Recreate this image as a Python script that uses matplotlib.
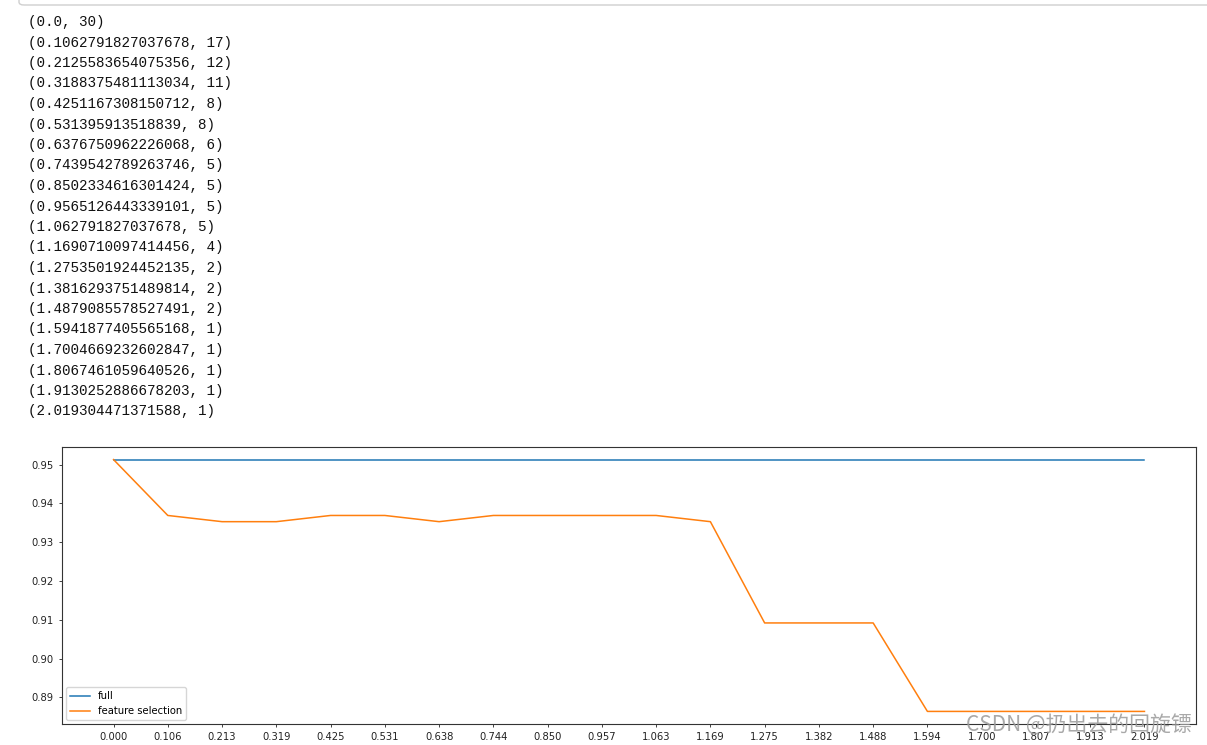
import matplotlib.pyplot as plt
from matplotlib.patches import FancyBboxPatch

# thresholds and number of selected features (printed output)
thresholds = [0.0, 0.1062791827037678, 0.2125583654075356, 0.3188375481113034,
              0.4251167308150712, 0.531395913518839, 0.6376750962226068,
              0.7439542789263746, 0.8502334616301424, 0.9565126443339101,
              1.062791827037678, 1.1690710097414456, 1.2753501924452135,
              1.3816293751489814, 1.4879085578527491, 1.5941877405565168,
              1.7004669232602847, 1.8067461059640526, 1.9130252886678203,
              2.019304471371588]
n_features = [30, 17, 12, 11, 8, 8, 6, 5, 5, 5, 5, 4, 2, 2, 2, 1, 1, 1, 1, 1]

# scores
full_score = [0.9513] * 20
fs_score = [0.9513, 0.9369, 0.9353, 0.9353, 0.9369, 0.9369, 0.9353, 0.9369,
            0.9369, 0.9369, 0.9369, 0.9353, 0.9092, 0.9092, 0.9092, 0.8864,
            0.8864, 0.8864, 0.8864, 0.8864]

W, H = 1207, 745
fig = plt.figure(figsize=(W / 100, H / 100), dpi=100)

# notebook cell border at the very top
fig.add_artist(FancyBboxPatch((19 / W, 1 - 5 / H), 1.2, 0.2,
                              boxstyle="round,pad=0,rounding_size=0.004",
                              transform=fig.transFigure, fc='none',
                              ec='#cfcfcf', lw=1))

# printed text output
for i, (t, n) in enumerate(zip(thresholds, n_features)):
    y = 1 - (22 + i * 20.5) / H
    fig.text(28 / W, y, str((t, n)), family='Liberation Mono', fontsize=10.3,
             va='center', ha='left', color='#111111')

ax = fig.add_axes([62 / W, 21 / H, 1134 / W, 277 / H])
ax.plot(thresholds, full_score, color='#1f77b4', lw=1.1, label='full')
ax.plot(thresholds, fs_score, color='#ff7f0e', lw=1.1, label='feature selection')
ax.set_xticks(thresholds)
ax.set_xticklabels([f'{t:.3f}' for t in thresholds])
ax.tick_params(labelsize=7.2, length=2.5, width=0.6, colors='#222222')
for s in ax.spines.values():
    s.set_linewidth(0.8)
    s.set_color('#333333')
ax.legend(loc='lower left', fontsize=7.2, handlelength=2.0, borderaxespad=0.4)

fig.text(1192 / W, 1 - 725 / H, 'CSDN @扔出去的回旋镖', family=['Noto Sans CJK SC', 'DejaVu Sans'],
         fontsize=15, color='#9a9a9a', alpha=0.85, ha='right', va='center')

fig.savefig('out.png', dpi=100)
